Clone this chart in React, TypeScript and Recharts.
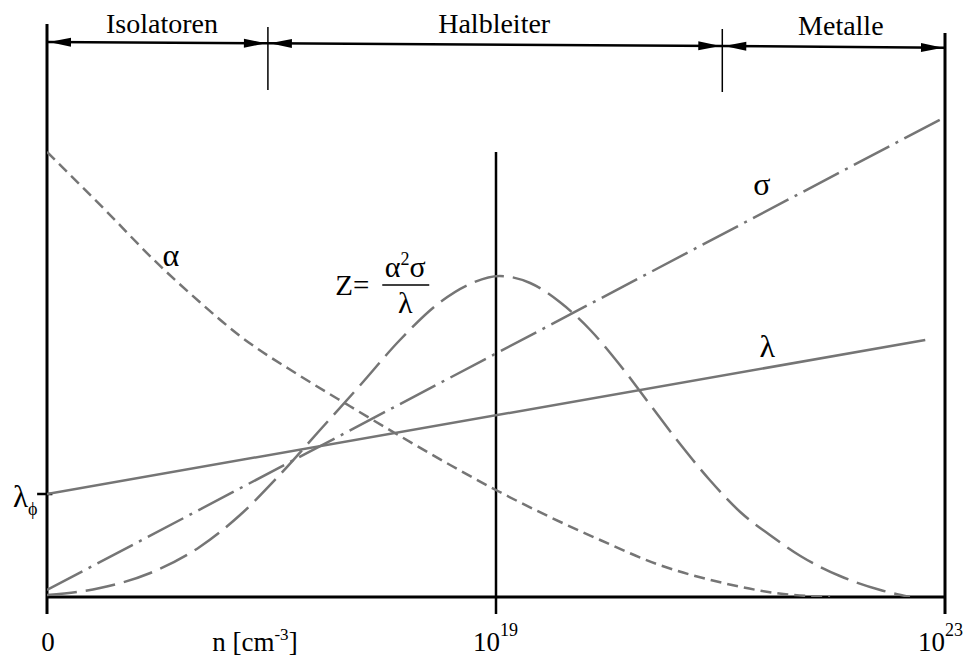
import { LineChart, Line, XAxis, YAxis, ReferenceLine, ReferenceDot } from 'recharts'

// n-Achse: 0 … 100 (10^19 liegt bei 50, 10^23 bei 100), Werte in willkürlichen Einheiten
const alphaN = [0, 6.7, 11.8, 17.0, 21.5, 28.2, 33.7, 39.3, 44.9, 50.2, 56.0, 61.6, 67.9, 75.3, 82.0, 87.2]
const alphaVal = [89, 77, 67.6, 59, 52.2, 44.2, 38.2, 32.2, 26.4, 21.2, 16, 11.4, 6.6, 2.8, 0.6, 0]

const zN = [0, 5.9, 11.5, 17.0, 21.5, 25.9, 30.4, 34.9, 39.3, 43.8, 47.1, 50.4, 53.8, 57.1, 60.5, 63.8, 67.1, 70.5, 73.8, 77.2, 80.5, 83.9, 88.3, 92.8, 96.1]
const zVal = [0.4, 1.8, 4.8, 10.0, 16.4, 24.4, 33.4, 42.4, 51.4, 59.0, 62.6, 64.2, 62.8, 59.0, 53.4, 46.4, 38.6, 30.6, 23.4, 17.0, 12.4, 8.2, 4.2, 1.4, 0]

const sigmaN = [0, 100]
const sigmaVal = [1.4, 96]

const lambdaN = [0, 97.8]
const lambdaVal = [20.6, 51.4]

// Bereiche oben: Grenzen und Beschriftung
const bereichGrenzen = [0, 24.6, 75.2, 100]
const bereichNamen = ['Isolatoren', 'Halbleiter', 'Metalle']

const pts = (n: number[], v: number[]) => n.map((x, i) => ({ n: x, v: v[i] }))

const FONT = '"Liberation Serif", "Times New Roman", serif'
const GRAU = '#757575'

// Linie mit Pfeilspitzen an beiden Enden (nach außen)
const Pfeil = (p: any) => {
  const { x1, y1, x2, y2 } = p
  const len = Math.hypot(x2 - x1, y2 - y1)
  const ux = (x2 - x1) / len
  const uy = (y2 - y1) / len
  const L = 22
  const h = 4.5
  const head = (tx: number, ty: number, dir: number) => {
    const bx = tx + dir * L * ux
    const by = ty + dir * L * uy
    return `${tx},${ty} ${bx - h * uy},${by + h * ux} ${bx + h * uy},${by - h * ux}`
  }
  return (
    <g>
      <line x1={x1} y1={y1} x2={x2} y2={y2} stroke="#000" strokeWidth={2.5} />
      <polygon points={head(x1 + 2, y1, 1)} fill="#000" />
      <polygon points={head(x2 - 2, y2, -1)} fill="#000" />
    </g>
  )
}

const text = (key: string, n: number, v: number, render: (x: number, y: number) => any) => (
  <ReferenceDot
    key={key}
    x={n}
    y={v}
    r={0}
    fill="none"
    stroke="none"
    ifOverflow="visible"
    label={(p: any) => render(p.viewBox.x, p.viewBox.y)}
  />
)

const strich = (key: string, a: { x: number; y: number }, b: { x: number; y: number }, w = 3) => (
  <ReferenceLine key={key} segment={[a, b]} stroke="#000" strokeWidth={w} ifOverflow="visible" />
)

export default function App() {
  const pfeilY = [111, 110.74, 110.2, 109.86]

  return (
    <div style={{ position: 'absolute', left: 0, top: 0, background: '#fff' }}>
      <LineChart width={966} height={659} margin={{ top: 22, right: 21, bottom: 62, left: 47 }}>
        <XAxis dataKey="n" type="number" domain={[0, 100]} allowDataOverflow hide />
        <YAxis type="number" domain={[0, 115]} allowDataOverflow hide />

        {/* Achsen */}
        {strich('links', { x: 0, y: -3.4 }, { x: 0, y: 114.6 })}
        {strich('rechts', { x: 100, y: -3.4 }, { x: 100, y: 112.8 })}
        {strich('unten', { x: 0, y: 0 }, { x: 100, y: 0 })}
        {strich('n19', { x: 50, y: -3.4 }, { x: 50, y: 89 }, 2.5)}
        {strich('lphi', { x: -1.1, y: 20.6 }, { x: 0.6, y: 20.6 }, 2.5)}

        {/* Bereichsgrenzen */}
        {strich('g1', { x: 24.6, y: 101.4 }, { x: 24.6, y: 114 }, 1.5)}
        {strich('g2', { x: 75.2, y: 101 }, { x: 75.2, y: 113.6 }, 1.5)}

        {bereichNamen.map((name, i) => (
          <ReferenceLine
            key={name}
            segment={[
              { x: bereichGrenzen[i], y: pfeilY[i] },
              { x: bereichGrenzen[i + 1], y: pfeilY[i + 1] },
            ]}
            ifOverflow="visible"
            shape={Pfeil}
          />
        ))}

        <Line data={pts(sigmaN, sigmaVal)} dataKey="v" type="linear" dot={false} stroke={GRAU} strokeWidth={2.5} strokeDasharray="40 7 3 7" isAnimationActive={false} />
        <Line data={pts(lambdaN, lambdaVal)} dataKey="v" type="linear" dot={false} stroke={GRAU} strokeWidth={2.5} isAnimationActive={false} />
        <Line data={pts(alphaN, alphaVal)} dataKey="v" type="monotone" dot={false} stroke={GRAU} strokeWidth={2.5} strokeDasharray="11 6" isAnimationActive={false} />
        <Line data={pts(zN, zVal)} dataKey="v" type="monotone" dot={false} stroke={GRAU} strokeWidth={2.5} strokeDasharray="30 9" isAnimationActive={false} />

        {/* Beschriftungen */}
        {text('iso', 12.8, 112.8, (x, y) => (
          <text x={x} y={y} textAnchor="middle" fontFamily={FONT} fontSize={28} fill="#000">{bereichNamen[0]}</text>
        ))}
        {text('hl', 49.8, 112.8, (x, y) => (
          <text x={x} y={y} textAnchor="middle" fontFamily={FONT} fontSize={28} fill="#000">{bereichNamen[1]}</text>
        ))}
        {text('met', 88.4, 112.4, (x, y) => (
          <text x={x} y={y} textAnchor="middle" fontFamily={FONT} fontSize={28} fill="#000">{bereichNamen[2]}</text>
        ))}

        {text('alpha', 13.8, 66.2, (x, y) => (
          <text x={x} y={y} textAnchor="middle" fontFamily={FONT} fontSize={32} fill="#000">α</text>
        ))}
        {text('sigma', 79.6, 80.4, (x, y) => (
          <text x={x} y={y} textAnchor="middle" fontFamily={FONT} fontSize={32} fill="#000">σ</text>
        ))}
        {text('lambda', 80.2, 48, (x, y) => (
          <text x={x} y={y} textAnchor="middle" fontFamily={FONT} fontSize={32} fill="#000">λ</text>
        ))}

        {text('zformel', 32.1, 60.4, (x, y) => (
          <g fontFamily={FONT} fill="#000">
            <text x={x} y={y} fontSize={29}>Z=</text>
            <text x={x + 70} y={y - 18} textAnchor="middle" fontSize={30}>
              α<tspan dy={-12} fontSize={18}>2</tspan><tspan dy={12}>σ</tspan>
            </text>
            <line x1={x + 47} y1={y - 10} x2={x + 94} y2={y - 10} stroke="#000" strokeWidth={1.5} />
            <text x={x + 70} y={y + 18} textAnchor="middle" fontSize={30}>λ</text>
          </g>
        ))}

        {text('lphi-t', -3.8, 18, (x, y) => (
          <text x={x} y={y} fontFamily={FONT} fontSize={31} fill="#000">
            λ<tspan dy={8} fontSize={18}>ϕ</tspan>
          </text>
        ))}

        {text('null', 0, -10.8, (x, y) => (
          <text x={x + 1} y={y} textAnchor="middle" fontFamily={FONT} fontSize={27} fill="#000">0</text>
        ))}
        {text('n', 18.4, -10.8, (x, y) => (
          <text x={x} y={y} fontFamily={FONT} fontSize={27} fill="#000">
            n [cm<tspan dy={-11} fontSize={17}>-3</tspan><tspan dy={11}>]</tspan>
          </text>
        ))}
        {text('e19', 50, -10.8, (x, y) => (
          <g fontFamily={FONT} fill="#000">
            <text x={x + 4} y={y} textAnchor="end" fontSize={27}>10</text>
            <text x={x + 4} y={y - 15} fontSize={18}>19</text>
          </g>
        ))}
        {text('e23', 100, -10.8, (x, y) => (
          <g fontFamily={FONT} fill="#000">
            <text x={x} y={y} textAnchor="end" fontSize={27}>10</text>
            <text x={x} y={y - 15} fontSize={18}>23</text>
          </g>
        ))}
      </LineChart>
    </div>
  )
}
